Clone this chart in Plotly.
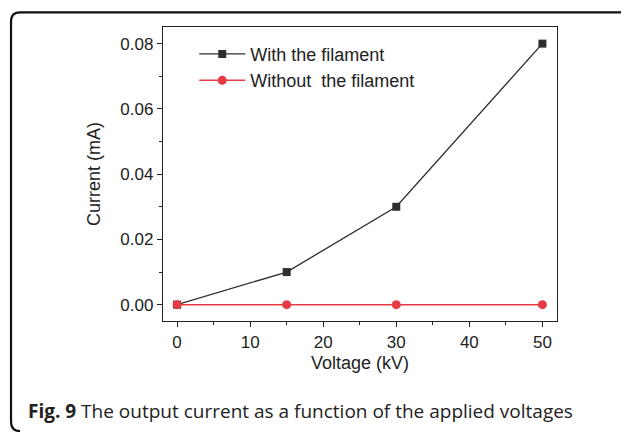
import plotly.graph_objects as go

# Data
voltage_kv = [0, 15, 30, 50]
current_with = [0.0, 0.01, 0.03, 0.08]
current_without = [0.0, 0.0, 0.0, 0.0]
series_names = ["With the filament", "Without  the filament"]
x_title = "Voltage (kV)"
y_title = "Current (mA)"
caption = "<b>Fig. 9</b> The output current as a function of the applied voltages"

W, H = 629, 432
OFF = 8  # default page body margin
L, R, T, B = 162.7, 557.3, 27.3, 321.0  # plot area in viewport pixels


def px(x):
    return (x - L) / (R - L)


def py(y):
    return (B - y) / (B - T)


fig = go.Figure()
fig.add_trace(go.Scatter(
    x=voltage_kv, y=current_with, mode="lines+markers", name=series_names[0],
    line=dict(color="#2e2e2e", width=1.3),
    marker=dict(symbol="square", size=8, color="#2e2e2e"),
    legendgroup="a",
))
fig.add_trace(go.Scatter(
    x=voltage_kv, y=current_without, mode="lines+markers", name=series_names[1],
    line=dict(color="#e63b45", width=1.6),
    marker=dict(symbol="circle", size=9, color="#e63b45"),
    legendgroup="b",
))

axis_common = dict(
    showline=True, linecolor="#222222", linewidth=1.3, mirror=True,
    ticks="outside", ticklen=5, tickwidth=1.2, tickcolor="#222222",
    showgrid=False, zeroline=False,
    tickfont=dict(family="Liberation Sans, Arial, sans-serif", size=17, color="#222222"),
    title_font=dict(family="Liberation Sans, Arial, sans-serif", size=18, color="#222222"),
)

fig.update_xaxes(
    range=[-1.93, 52.0], tick0=0, dtick=10,
    minor=dict(ticks="outside", ticklen=3, dtick=5, tick0=0, tickcolor="#222222", tickwidth=1.2),
    title_text=x_title, title_standoff=5,
    **axis_common,
)
fig.update_yaxes(
    range=[-0.005, 0.0851], tick0=0, dtick=0.02, tickformat=".2f",
    minor=dict(ticks="outside", ticklen=3, dtick=0.01, tick0=0, tickcolor="#222222", tickwidth=1.2),
    title_text=y_title, title_standoff=15,
    **axis_common,
)

# Rounded border (top, left, and corners) in viewport pixels converted to paper
x0, x1, y0, y1, r = 10.5, 629.5, 12.7, 431.0, 9
path = (
    f"M {px(x1 + 2)},{py(y0 + r + 40)} "
    f"L {px(x1)},{py(y0 + r)} "
    f"Q {px(x1)},{py(y0)} {px(x1 - r)},{py(y0)} "
    f"L {px(x0 + r)},{py(y0)} "
    f"Q {px(x0)},{py(y0)} {px(x0)},{py(y0 + r)} "
    f"L {px(x0)},{py(y1 - r)} "
    f"Q {px(x0)},{py(y1)} {px(x0 + r)},{py(y1)}"
)
fig.add_shape(type="path", path=path, xref="paper", yref="paper",
              line=dict(color="#111111", width=2.2), layer="above")

fig.add_annotation(
    text=caption, xref="paper", yref="paper", x=px(25), y=py(410.5),
    xanchor="left", yanchor="middle", showarrow=False,
    font=dict(family="Open Sans, Noto Sans, sans-serif", size=19, color="#222222"),
)

fig.update_layout(
    width=W - OFF, height=H - OFF,
    margin=dict(l=L - OFF, r=W - R, t=T - OFF, b=H - B),
    paper_bgcolor="white", plot_bgcolor="white",
    showlegend=True,
    legend=dict(
        x=px(194), y=py(36), xanchor="left", yanchor="top",
        bgcolor="rgba(0,0,0,0)", borderwidth=0,
        font=dict(family="Liberation Sans, Arial, sans-serif", size=18, color="#222222"),
        itemwidth=46, tracegroupgap=0, traceorder="grouped",
    ),
)

fig.write_html("out.html")
